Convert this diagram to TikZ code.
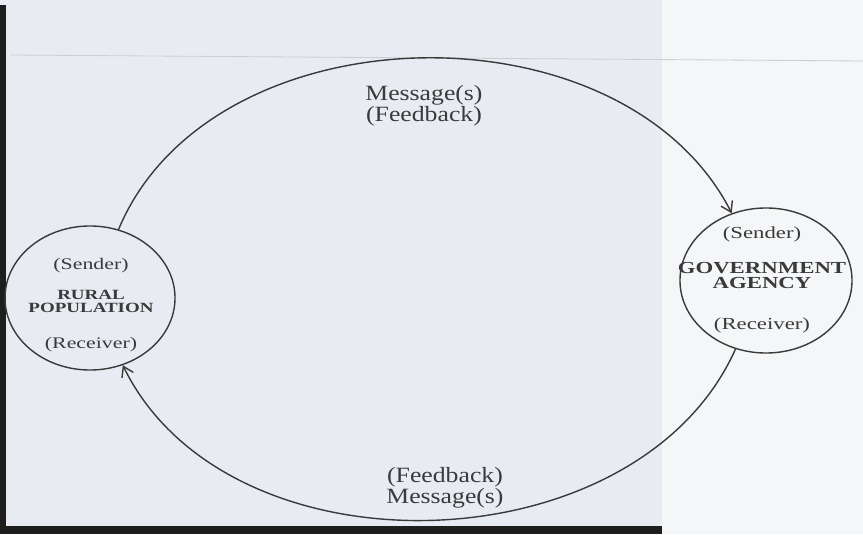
\documentclass[tikz,border=0pt]{standalone}
\usepackage{fontspec}
\setmainfont{Liberation Serif}
\newfontfamily\nodefont[FakeStretch=1.35]{Liberation Serif}
\newfontfamily\labelfont[FakeStretch=1.18]{Liberation Serif}
\usetikzlibrary{arrows.meta,shapes.geometric}
\definecolor{ink}{HTML}{3A3A3A}
\definecolor{paper}{HTML}{E8ECF2}
\definecolor{paperlight}{HTML}{F5F6F8}
\definecolor{scanedge}{HTML}{1E1E1E}
\tikzset{partydisk/.style={draw=ink,ellipse,line width=1pt,inner sep=0pt},partytext/.style={text=ink,align=center,inner sep=0pt},flowarc/.style={draw=ink,line width=1pt,-{Straight Barb[length=7pt,width=9pt]}},flowlabel/.style={text=ink,align=center,inner sep=0pt,font=\labelfont\fontsize{15.5}{15}\selectfont}}

\begin{document}
\begin{tikzpicture}[x=0.025cm,y=0.025cm]
\useasboundingbox (0,0) rectangle (863,534);
% scanned sheet
\fill[paper] (0,0) rectangle (863,534);
\fill[paperlight] (662,0) rectangle (863,534);
\draw[ink!25,line width=.6pt] (10,479) -- (863,473);
\fill[scanedge] (0,0) rectangle (662,8);
\fill[scanedge] (0,0) rectangle (6,529);
% the two parties
\node[partydisk,minimum width=4.25cm,minimum height=3.6cm] (rural) at (90,236) {};
\node[partydisk,minimum width=4.3cm,minimum height=3.625cm] (gov) at (766,253.5) {};
\node[partytext,font=\nodefont\fontsize{11.5}{9.2}\selectfont] (ruraltext) at (91,229) {(Sender)\\[12.1pt]\textbf{\fontsize{10}{9.2}\selectfont RURAL}\\\textbf{\fontsize{10}{9.2}\selectfont POPULATION}\\[16.4pt](Receiver)};
\node[partytext,font=\nodefont\fontsize{12}{10.7}\selectfont] (govtext) at (762,254) {(Sender)\\[13.5pt]\textbf{GOVERNMENT}\\\textbf{AGENCY}\\[18.5pt](Receiver)};
% message flows
\draw[flowarc] (rural) to[out=67.5,in=117] (gov);
\draw[flowarc] (gov) to[out=246,in=296] (rural);
\node[flowlabel] (toplabel) at (424,428.5) {Message(s)\\(Feedback)};
\node[flowlabel] (bottomlabel) at (445,46.5) {(Feedback)\\Message(s)};
\end{tikzpicture}
\end{document}
